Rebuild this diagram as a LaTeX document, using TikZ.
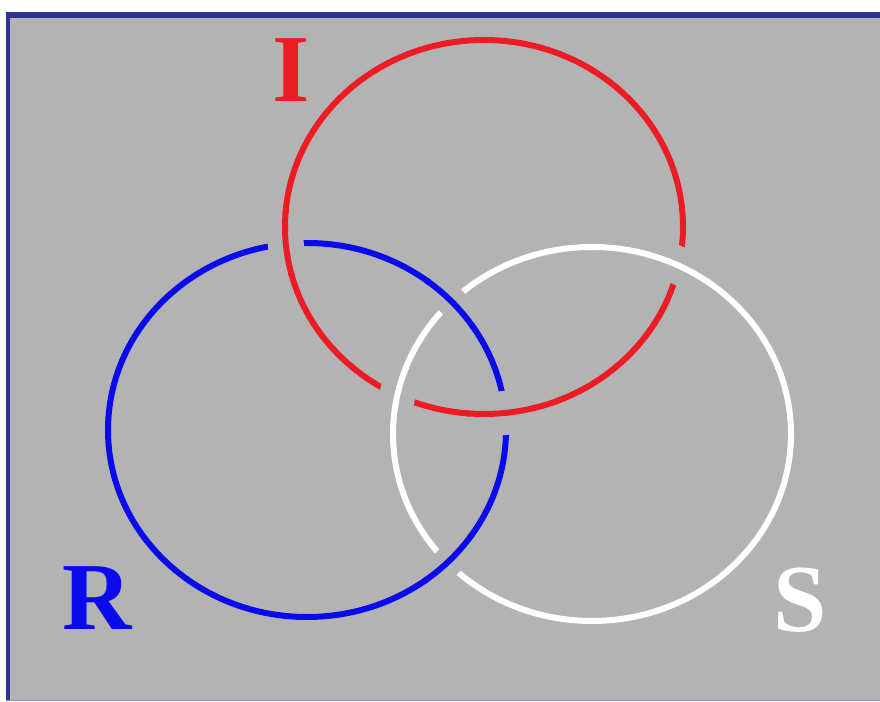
\documentclass[tikz,border=0pt]{standalone}
\usepackage{fontspec}
\setmainfont{Liberation Serif}
\definecolor{grund}{HTML}{B3B3B3}
\definecolor{rahmen}{HTML}{2F3491}
\definecolor{rot}{HTML}{ED1C24}
\definecolor{blau}{HTML}{0A0AEE}
\newcommand{\kreuz}[4]{%
  \draw[luecke,line width=#4pt] ([shift={(#3-9:199 and 187)}]#2)
    arc[start angle=#3-9,end angle=#3+9,x radius=199,y radius=187];
  \draw[ring,#1] ([shift={(#3-10:199 and 187)}]#2)
    arc[start angle=#3-10,end angle=#3+10,x radius=199,y radius=187];}
\tikzset{
  ring/.style={line width=6pt},
  luecke/.style={grund},
  buchst/.style={font=\fontsize{96}{96}\selectfont\bfseries,anchor=base},
}
\begin{document}
\begin{tikzpicture}[x=1pt,y=1pt]
  \useasboundingbox (0,0) rectangle (880,701);
  % Grund und Rahmen
  \fill[grund] (6,0) rectangle (880,689);
  \fill[rahmen] (6,683) rectangle (880,689);
  \fill[rahmen] (6,0) rectangle (10,689);
  \fill[rahmen!55] (6,0) rectangle (880,1.2);
  % Ringe
  \coordinate (mI) at (484,474);
  \coordinate (mR) at (307,271);
  \coordinate (mS) at (592,267);
  \draw[ring,rot] (mI) ellipse (199 and 187);
  \draw[ring,blau] (mR) ellipse (199 and 187);
  \draw[ring,white] (mS) ellipse (199 and 187);
  % Kreuzungen
  \kreuz{rot}{mI}{185}{36}
  \kreuz{rot}{mI}{275}{44}
  \kreuz{white}{mS}{64}{38}
  \kreuz{white}{mS}{169}{36}
  \kreuz{blau}{mR}{43}{30}
  \kreuz{blau}{mR}{316}{30}
  % Buchstaben
  \node[buchst,rot] (lI) at (291,599) {I};
  \node[buchst,blau] (lR) at (97,71) {R};
  \node[buchst,white] (lS) at (800,70) {S};
\end{tikzpicture}
\end{document}
